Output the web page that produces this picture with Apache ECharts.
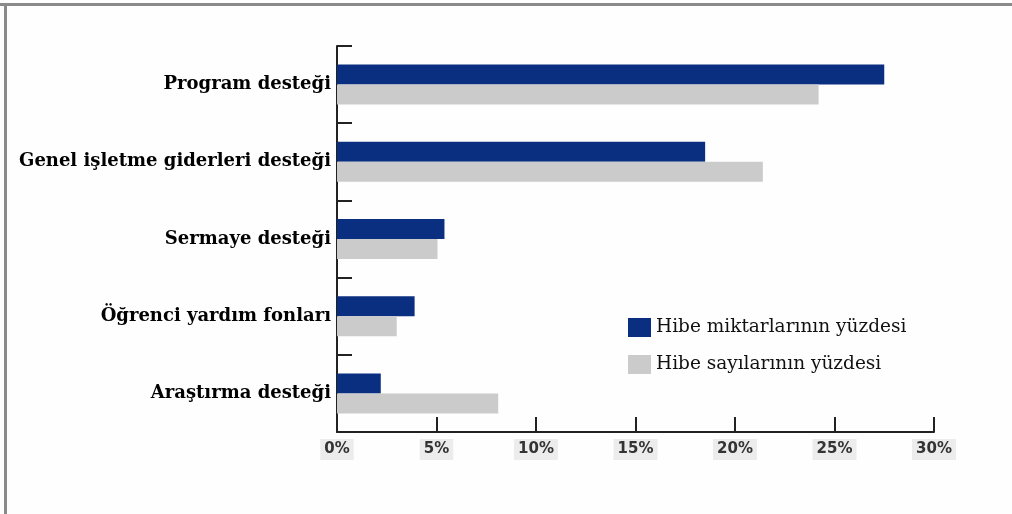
<!DOCTYPE html>
<html><head><meta charset="utf-8">
<script src="https://cdn.jsdelivr.net/npm/echarts@6/dist/echarts.min.js"></script>
<style>html,body{margin:0;padding:0;background:#fff}#c{width:1012px;height:514px}</style>
</head><body><div id="c"></div>
<script>
const categories = ['Program desteği','Genel işletme giderleri desteği','Sermaye desteği','Öğrenci yardım fonları','Araştırma desteği'];
const seriesNames = ['Hibe miktarlarının yüzdesi','Hibe sayılarının yüzdesi'];
const amountPct = [27.5, 18.5, 5.4, 3.9, 2.2];
const countPct = [24.2, 21.4, 5.05, 3.0, 8.1];
const xTicks = [0,5,10,15,20,25,30];

const chart = echarts.init(document.getElementById('c'), null, {renderer:'canvas'});
chart.setOption({
  animation:false,
  backgroundColor:'#fefefe',
  graphic:[
    {type:'rect', shape:{x:0,y:3,width:1012,height:3}, style:{fill:'#8a8a8a'}},
    {type:'rect', shape:{x:4,y:3,width:3,height:511}, style:{fill:'#8a8a8a'}}
  ],
  grid:{left:337, right:78, top:46, bottom:82, containLabel:false},
  legend:{
    orient:'vertical', left:623, top:313, itemWidth:23, itemHeight:19, itemGap:18,
    icon:'rect',
    textStyle:{fontFamily:'DejaVu Serif', fontSize:18.5, color:'#111'},
    data:seriesNames
  },
  xAxis:{
    type:'value', min:xTicks[0], max:xTicks[xTicks.length-1], interval:5,
    axisLine:{show:true, lineStyle:{color:'#222', width:2}},
    axisTick:{show:true, inside:true, length:15, lineStyle:{color:'#222', width:2}},
    splitLine:{show:false},
    axisLabel:{formatter:'{value}%', fontFamily:'DejaVu Sans', fontSize:15, fontWeight:'bold', color:'#333',
      backgroundColor:'#ececec', padding:[3,4,3,4], margin:7}
  },
  yAxis:{
    type:'category', data:categories, inverse:true,
    axisLine:{show:true, lineStyle:{color:'#222', width:2}},
    axisTick:{show:true, inside:true, length:15, alignWithLabel:false, lineStyle:{color:'#222', width:2}},
    axisLabel:{fontFamily:'DejaVu Serif', fontWeight:'bold', fontSize:18, color:'#000', margin:6}
  },
  series:[
    {name:seriesNames[0], type:'bar', data:amountPct, barWidth:20, barGap:'0%', itemStyle:{color:'#0b2f80'}},
    {name:seriesNames[1], type:'bar', data:countPct, barWidth:20, barGap:'0%', itemStyle:{color:'#cbcbcb'}}
  ]
});
</script></body></html>
